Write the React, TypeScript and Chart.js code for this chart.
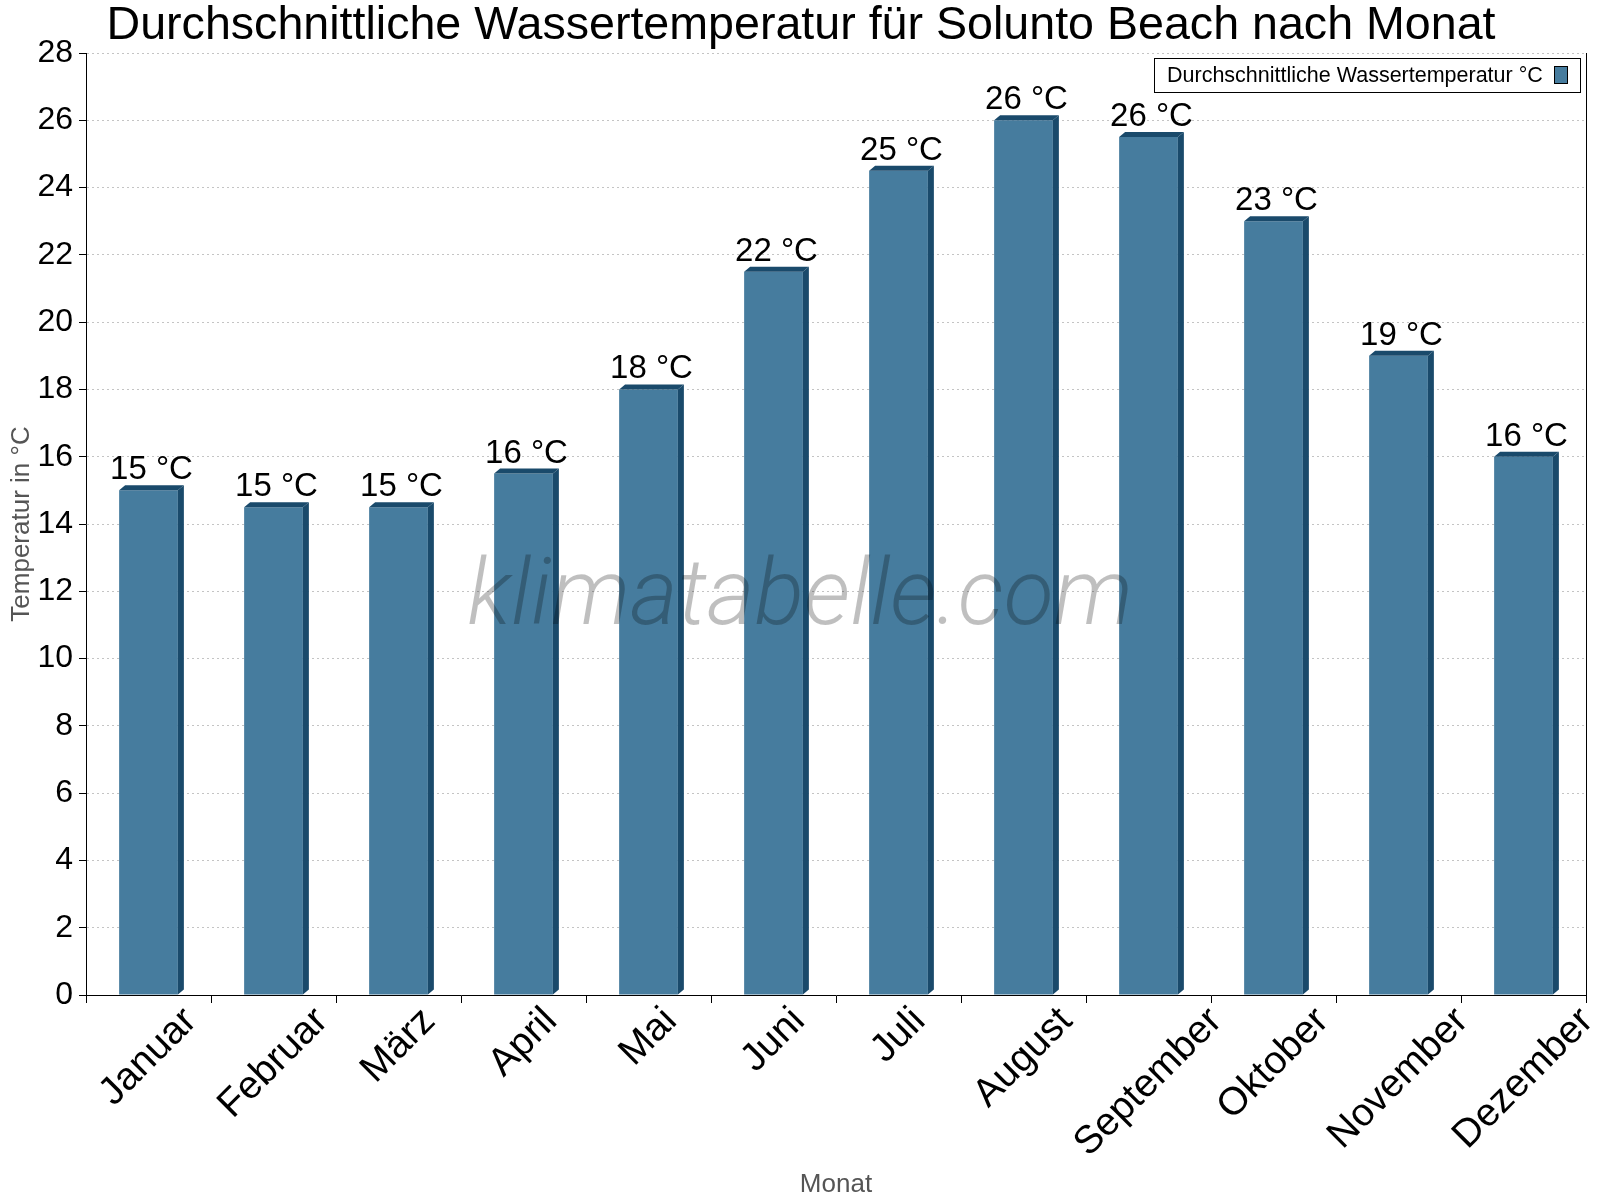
import { useEffect, useRef } from 'react';
import { Chart, registerables } from 'chart.js';

Chart.register(...registerables);

const months = ['Januar', 'Februar', 'März', 'April', 'Mai', 'Juni', 'Juli', 'August', 'September', 'Oktober', 'November', 'Dezember'];
const waterTemp = [15, 14.5, 14.5, 15.5, 18, 21.5, 24.5, 26, 25.5, 23, 19, 16];
const tempLabels = ['15 °C', '15 °C', '15 °C', '16 °C', '18 °C', '22 °C', '25 °C', '26 °C', '26 °C', '23 °C', '19 °C', '16 °C'];

const FONT = '"Liberation Sans", Arial, sans-serif';
const FACE = '#467c9e';
const DARK = '#1a4a6b';

// 3D side/top, value labels, month labels, watermark, legend and title
const decoPlugin = {
  id: 'deco',
  afterDatasetsDraw(chart: Chart) {
    const { ctx, chartArea } = chart;
    const meta = chart.getDatasetMeta(0);
    const xScale = chart.scales.x;
    const dx = 6;
    const dy = 5;
    ctx.save();
    meta.data.forEach((bar: any, i: number) => {
      const { x, y, base, width } = bar.getProps(['x', 'y', 'base', 'width'], true);
      const left = x - width / 2;
      const right = x + width / 2;
      ctx.fillStyle = DARK;
      ctx.beginPath();
      ctx.moveTo(right, y);
      ctx.lineTo(right + dx, y - dy);
      ctx.lineTo(right + dx, base - dy);
      ctx.lineTo(right, base);
      ctx.closePath();
      ctx.fill();
      ctx.beginPath();
      ctx.moveTo(left, y);
      ctx.lineTo(left + dx, y - dy);
      ctx.lineTo(right + dx, y - dy);
      ctx.lineTo(right, y);
      ctx.closePath();
      ctx.fill();

      ctx.fillStyle = '#000';
      ctx.font = `33px ${FONT}`;
      ctx.textAlign = 'center';
      ctx.textBaseline = 'alphabetic';
      ctx.fillText(tempLabels[i], x + dx / 2, y - dy - 6);
    });

    // month labels, rotated around their centre
    ctx.font = `39px ${FONT}`;
    ctx.fillStyle = '#000';
    ctx.textAlign = 'center';
    ctx.textBaseline = 'middle';
    months.forEach((m, i) => {
      const w = ctx.measureText(m).width;
      const cx = xScale.getPixelForValue(i);
      const cy = chartArea.bottom + 20 + w * 0.354;
      ctx.save();
      ctx.translate(cx, cy);
      ctx.rotate(-Math.PI / 4);
      ctx.fillText(m, 0, 0);
      ctx.restore();
    });

    // right border of plot
    ctx.strokeStyle = '#000';
    ctx.lineWidth = 1;
    ctx.beginPath();
    ctx.moveTo(Math.round(chartArea.right) + 0.5, chartArea.top);
    ctx.lineTo(Math.round(chartArea.right) + 0.5, chartArea.bottom);
    ctx.stroke();

    // watermark
    ctx.fillStyle = 'rgba(0,0,0,0.25)';
    ctx.font = `italic 300 92px Roboto, ${FONT}`;
    ctx.textAlign = 'center';
    ctx.textBaseline = 'alphabetic';
    ctx.fillText('klimatabelle.com', 800, 624);

    // legend
    ctx.fillStyle = '#fff';
    ctx.fillRect(1154, 58, 427, 35);
    ctx.strokeStyle = '#000';
    ctx.strokeRect(1154.5, 58.5, 426, 34);
    ctx.fillStyle = '#000';
    ctx.font = `21.5px ${FONT}`;
    ctx.textAlign = 'left';
    ctx.textBaseline = 'middle';
    ctx.fillText('Durchschnittliche Wassertemperatur °C', 1167, 76);
    ctx.fillStyle = FACE;
    ctx.fillRect(1554, 66, 14, 18);
    ctx.strokeRect(1554.5, 66.5, 13, 17);

    // title
    ctx.fillStyle = '#000';
    ctx.font = `46.6px ${FONT}`;
    ctx.textAlign = 'center';
    ctx.textBaseline = 'alphabetic';
    ctx.fillText('Durchschnittliche Wassertemperatur für Solunto Beach nach Monat', 801, 39);
    ctx.restore();
  }
};

export default function App() {
  const canvasRef = useRef<HTMLCanvasElement>(null);

  useEffect(() => {
    document.body.style.margin = '0';
    if (!canvasRef.current) return;
    const chart = new Chart(canvasRef.current, {
      type: 'bar',
      data: {
        labels: months,
        datasets: [
          {
            label: 'Durchschnittliche Wassertemperatur °C',
            data: waterTemp,
            backgroundColor: FACE,
            borderWidth: 0,
            barPercentage: 0.47,
            categoryPercentage: 1
          }
        ]
      },
      options: {
        responsive: false,
        animation: false,
        devicePixelRatio: 1,
        layout: { padding: { top: 53, right: 14, left: 0, bottom: 0 } },
        plugins: {
          legend: { display: false },
          title: { display: false },
          tooltip: { enabled: false }
        },
        scales: {
          x: {
            offset: true,
            grid: {
              display: true,
              drawOnChartArea: false,
              offset: true,
              tickLength: 8,
              tickColor: '#000'
            },
            border: { display: true, color: '#000', width: 1 },
            ticks: {
              display: false,
              autoSkip: false
            },
            title: {
              display: true,
              text: 'Monat',
              color: '#555',
              font: { family: FONT, size: 26 },
              padding: { top: 0, bottom: 0 }
            },
            afterFit(scale: any) {
              scale.height = 205;
            }
          },
          y: {
            min: 0,
            max: 28,
            grid: {
              color: '#c4c4c4',
              tickColor: '#000',
              tickLength: 7,
              lineWidth: 1
            },
            border: { display: true, color: '#000', width: 1, dash: [2, 3] },
            ticks: {
              stepSize: 2,
              padding: 6,
              color: '#000',
              font: { family: FONT, size: 32 }
            },
            title: {
              display: true,
              text: 'Temperatur in °C',
              color: '#555',
              font: { family: FONT, size: 26 },
              padding: { top: 6, bottom: 0 }
            },
            afterFit(scale: any) {
              scale.width = 86;
            }
          }
        }
      },
      plugins: [decoPlugin]
    });
    return () => chart.destroy();
  }, []);

  return (
    <div style={{ width: 1600, height: 1200, background: '#fff' }}>
      <canvas ref={canvasRef} width={1600} height={1200} />
    </div>
  );
}
